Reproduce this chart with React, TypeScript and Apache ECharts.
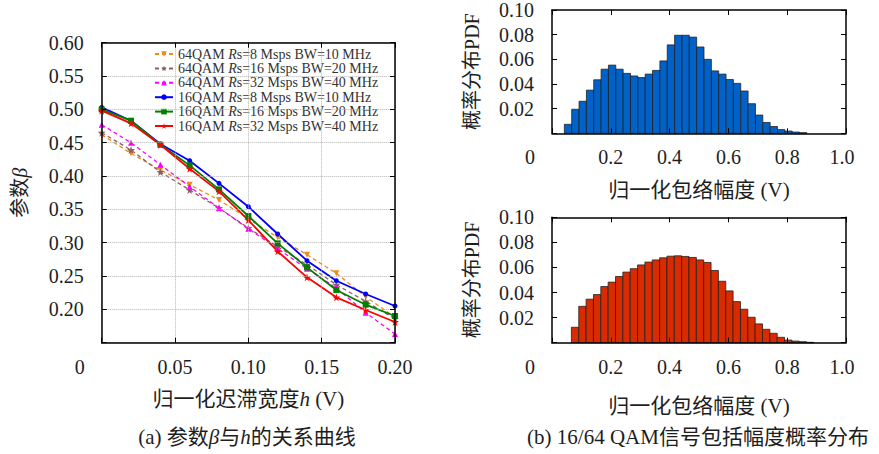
import React, { useEffect, useRef } from 'react';
import * as echarts from 'echarts';

// ---- Data: parameter beta vs hysteresis width h ----
const H_VALUES = [0, 0.02, 0.04, 0.06, 0.08, 0.1, 0.12, 0.14, 0.16, 0.18, 0.2];
const BETA_64_8 = [0.462, 0.434, 0.409, 0.387, 0.364, 0.336, 0.308, 0.282, 0.254, 0.219, 0.188];
const BETA_64_16 = [0.465, 0.439, 0.406, 0.379, 0.352, 0.322, 0.294, 0.267, 0.237, 0.212, 0.186];
const BETA_64_32 = [0.477, 0.45, 0.417, 0.384, 0.352, 0.321, 0.291, 0.261, 0.232, 0.195, 0.163];
const BETA_16_8 = [0.503, 0.483, 0.448, 0.423, 0.389, 0.354, 0.313, 0.273, 0.243, 0.223, 0.205];
const BETA_16_16 = [0.5, 0.483, 0.447, 0.416, 0.38, 0.34, 0.299, 0.263, 0.229, 0.207, 0.19];
const BETA_16_32 = [0.498, 0.479, 0.447, 0.411, 0.377, 0.334, 0.287, 0.248, 0.218, 0.199, 0.181];

const SERIES_NAMES = [
  '64QAM Rs=8 Msps BW=10 MHz',
  '64QAM Rs=16 Msps BW=20 MHz',
  '64QAM Rs=32 Msps BW=40 MHz',
  '16QAM Rs=8 Msps BW=10 MHz',
  '16QAM Rs=16 Msps BW=20 MHz',
  '16QAM Rs=32 Msps BW=40 MHz',
];

// ---- Data: envelope amplitude histograms ----
const BIN_WIDTH = 0.025;
const TOP_FIRST_EDGE = 0.042;
const BOTTOM_FIRST_EDGE = 0.066;
const PDF_TOP = [0.0073, 0.0195, 0.026, 0.035, 0.0434, 0.052, 0.0553, 0.052, 0.0486, 0.0465, 0.0452, 0.048, 0.051, 0.0587, 0.0717, 0.0795, 0.0795, 0.078, 0.07, 0.06, 0.0506, 0.048, 0.0436, 0.0405, 0.0343, 0.024, 0.0148, 0.0088, 0.0055, 0.003, 0.0018, 0.001, 0.0005];
const PDF_BOTTOM = [0.0123, 0.029, 0.0347, 0.0384, 0.0448, 0.0483, 0.0528, 0.0563, 0.059, 0.062, 0.0643, 0.066, 0.0677, 0.069, 0.0693, 0.0688, 0.068, 0.066, 0.064, 0.0576, 0.049, 0.0413, 0.0328, 0.0267, 0.0203, 0.015, 0.0107, 0.0075, 0.0043, 0.0021, 0.0013, 0.0008, 0.0003];

const FONT = "'Liberation Serif', 'Noto Sans CJK SC', serif";
const TXT = '#1e1e1e';
const STAR = 'path://M50,0 L61,35 L98,35 L68,57 L79,91 L50,70 L21,91 L32,57 L2,35 L39,35 Z';
const NAME_SIZE = 21;

const italic = { fontStyle: 'italic', fontSize: NAME_SIZE, fontFamily: FONT, color: TXT };

function histData(first: number, values: number[]) {
  return values.map((v, i) => [first + i * BIN_WIDTH, first + (i + 1) * BIN_WIDTH, v]);
}

function histSeries(axisIndex: number, data: number[][], color: string) {
  return {
    type: 'custom',
    xAxisIndex: axisIndex,
    yAxisIndex: axisIndex,
    encode: { x: [0, 1], y: 2 },
    data,
    renderItem: (_p: any, api: any) => {
      const a = api.coord([api.value(0), api.value(2)]);
      const b = api.coord([api.value(1), 0]);
      return {
        type: 'rect',
        shape: { x: a[0], y: a[1], width: b[0] - a[0], height: b[1] - a[1] },
        style: { fill: color, stroke: '#222', lineWidth: 0.8 },
      };
    },
  };
}

const boxLine = { show: true, onZero: false, lineStyle: { color: '#000', width: 1.5 } };
const tickIn = (len: number) => ({ show: true, inside: true, length: len, lineStyle: { color: '#000', width: 1 } });

function xBottom(gridIndex: number, min: number, max: number, interval: number, fmt: (v: number) => string, rich: any, name: string, nameGap: number, split: boolean) {
  return {
    type: 'value', gridIndex, position: 'bottom', min, max, interval, z: 10,
    axisLine: boxLine, axisTick: tickIn(5),
    splitLine: { show: split, lineStyle: { type: 'dotted', color: '#b4b4b4', width: 1 } },
    axisLabel: { margin: 14, fontSize: 20, fontFamily: FONT, color: TXT, formatter: fmt, rich },
    name, nameLocation: 'middle', nameGap,
    nameTextStyle: { fontSize: NAME_SIZE, fontFamily: FONT, color: TXT, rich: { i: italic } },
  };
}
function xTop(gridIndex: number, min: number, max: number, interval: number) {
  return {
    type: 'value', gridIndex, position: 'top', min, max, interval, z: 10,
    axisLine: boxLine, axisTick: tickIn(5), axisLabel: { show: false }, splitLine: { show: false },
  };
}
function yLeft(gridIndex: number, min: number, max: number, interval: number, fmt: (v: number) => string, name: string, nameGap: number, split: boolean) {
  return {
    type: 'value', gridIndex, position: 'left', min, max, interval, z: 10,
    axisLine: boxLine, axisTick: tickIn(5),
    splitLine: { show: split, lineStyle: { type: 'dotted', color: '#b4b4b4', width: 1 } },
    axisLabel: { margin: 18, fontSize: 20, fontFamily: FONT, color: TXT, formatter: fmt, padding: [5, 0, 0, 0] },
    name, nameLocation: 'middle', nameGap,
    nameTextStyle: { fontSize: 20, fontFamily: FONT, color: TXT, rich: { i: { ...italic, fontSize: 20 } } },
  };
}
function yRight(gridIndex: number, min: number, max: number, interval: number) {
  return {
    type: 'value', gridIndex, position: 'right', min, max, interval, z: 10,
    axisLine: boxLine, axisTick: tickIn(5), axisLabel: { show: false }, splitLine: { show: false },
  };
}

const shiftRich = {
  z: { padding: [0, 44, 0, 0], fontSize: 20, fontFamily: FONT, color: TXT },
  w: { padding: [0, 8, 0, 0], fontSize: 20, fontFamily: FONT, color: TXT },
};

const fmtH = (v: number) => (v === 0 ? '{z|0}' : v.toFixed(2));
const fmtA = (v: number) => (v === 0 ? '{z|0}' : Math.abs(v - 1) < 1e-9 ? '{w|1.0}' : v.toFixed(1));
const fmtBeta = (v: number) => (Math.abs(v - 0.15) < 1e-6 ? '' : v.toFixed(2));
const fmtPdf = (v: number) => (v === 0 ? '' : v.toFixed(2));

const lineStyles = [
  { color: '#ec8c1e', symbol: 'triangle', rotate: 180, size: 6, dashed: true },
  { color: '#8f5f5f', symbol: STAR, rotate: 0, size: 8, dashed: true },
  { color: '#ff00ff', symbol: 'triangle', rotate: 0, size: 6, dashed: true },
  { color: '#0000ff', symbol: 'circle', rotate: 0, size: 5, dashed: false },
  { color: '#008000', symbol: 'rect', rotate: 0, size: 6, dashed: false },
  { color: '#ff0000', symbol: STAR, rotate: 0, size: 8, dashed: false },
];
const BETA_SETS = [BETA_64_8, BETA_64_16, BETA_64_32, BETA_16_8, BETA_16_16, BETA_16_32];

export default function App() {
  const ref = useRef<HTMLDivElement>(null);
  useEffect(() => {
    const chart = echarts.init(ref.current!, null, { renderer: 'svg' });
    const lineSeries = SERIES_NAMES.map((name, k) => {
      const s = lineStyles[k];
      return {
        name,
        type: 'line',
        xAxisIndex: 0,
        yAxisIndex: 0,
        data: H_VALUES.map((h, i) => [h, BETA_SETS[k][i]]),
        symbol: s.symbol,
        symbolRotate: s.rotate,
        symbolSize: s.size,
        showAllSymbol: true,
        lineStyle: { color: s.color, width: s.dashed ? 1.3 : 1.8, type: s.dashed ? [4, 3] : 'solid' },
        itemStyle: { color: s.color },
        z: 3,
      };
    });
    const option: any = {
      animation: false,
      backgroundColor: '#fff',
      textStyle: { fontFamily: FONT },
      grid: [
        { left: 101.7, top: 42.7, width: 293.3, height: 300 },
        { left: 552, top: 5, width: 294, height: 128.3 },
        { left: 552, top: 217.3, width: 294, height: 125.4 },
      ],
      xAxis: [
        xBottom(0, 0, 0.2, 0.05, fmtH, shiftRich, '归一化迟滞宽度{i|h} (V)', 46, true),
        xTop(0, 0, 0.2, 0.05),
        xBottom(1, 0, 1, 0.2, fmtA, shiftRich, '归一化包络幅度 (V)', 46, false),
        xTop(1, 0, 1, 0.2),
        xBottom(2, 0, 1, 0.2, fmtA, shiftRich, '归一化包络幅度 (V)', 53, false),
        xTop(2, 0, 1, 0.2),
      ],
      yAxis: [
        yLeft(0, 0.15, 0.6, 0.05, fmtBeta, '参数{i|β}', 72, true),
        yRight(0, 0.15, 0.6, 0.05),
        yLeft(1, 0, 0.1, 0.02, fmtPdf, '概率分布PDF', 70, false),
        yRight(1, 0, 0.1, 0.02),
        yLeft(2, 0, 0.1, 0.02, fmtPdf, '概率分布PDF', 70, false),
        yRight(2, 0, 0.1, 0.02),
      ],
      legend: {
        data: SERIES_NAMES,
        orient: 'vertical',
        left: 152,
        top: 45,
        itemWidth: 18,
        itemHeight: 7,
        itemGap: 0.4,
        padding: [2, 4, 2, 2],
        backgroundColor: '#fff',
        textStyle: {
          fontSize: 14, fontFamily: FONT, color: '#333', lineHeight: 14,
          rich: { i: { fontStyle: 'italic', fontSize: 14, fontFamily: FONT, color: '#333' } },
        },
        formatter: (n: string) => n.replace('Rs', '{i|R}s'),
      },
      graphic: [
        {
          type: 'text', x: 247, y: 437,
          style: {
            text: '(a) 参数{i|β}与{i|h}的关系曲线', fontSize: NAME_SIZE, fontFamily: FONT, fill: TXT,
            align: 'center', verticalAlign: 'middle', rich: { i: { fontStyle: 'italic', fontSize: NAME_SIZE, fontFamily: FONT, fill: TXT } },
          },
        },
        {
          type: 'text', x: 698, y: 437,
          style: { text: '(b) 16/64 QAM信号包括幅度概率分布', fontSize: NAME_SIZE, fontFamily: FONT, fill: TXT, align: 'center', verticalAlign: 'middle' },
        },
      ],
      series: [
        ...lineSeries,
        histSeries(2, histData(TOP_FIRST_EDGE, PDF_TOP), '#0062c8'),
        histSeries(4, histData(BOTTOM_FIRST_EDGE, PDF_BOTTOM), '#d92a00'),
      ],
    };
    chart.setOption(option);
    return () => chart.dispose();
  }, []);
  return <div ref={ref} style={{ position: 'fixed', left: 0, top: 0, width: 879, height: 454, background: '#fff' }} />;
}
